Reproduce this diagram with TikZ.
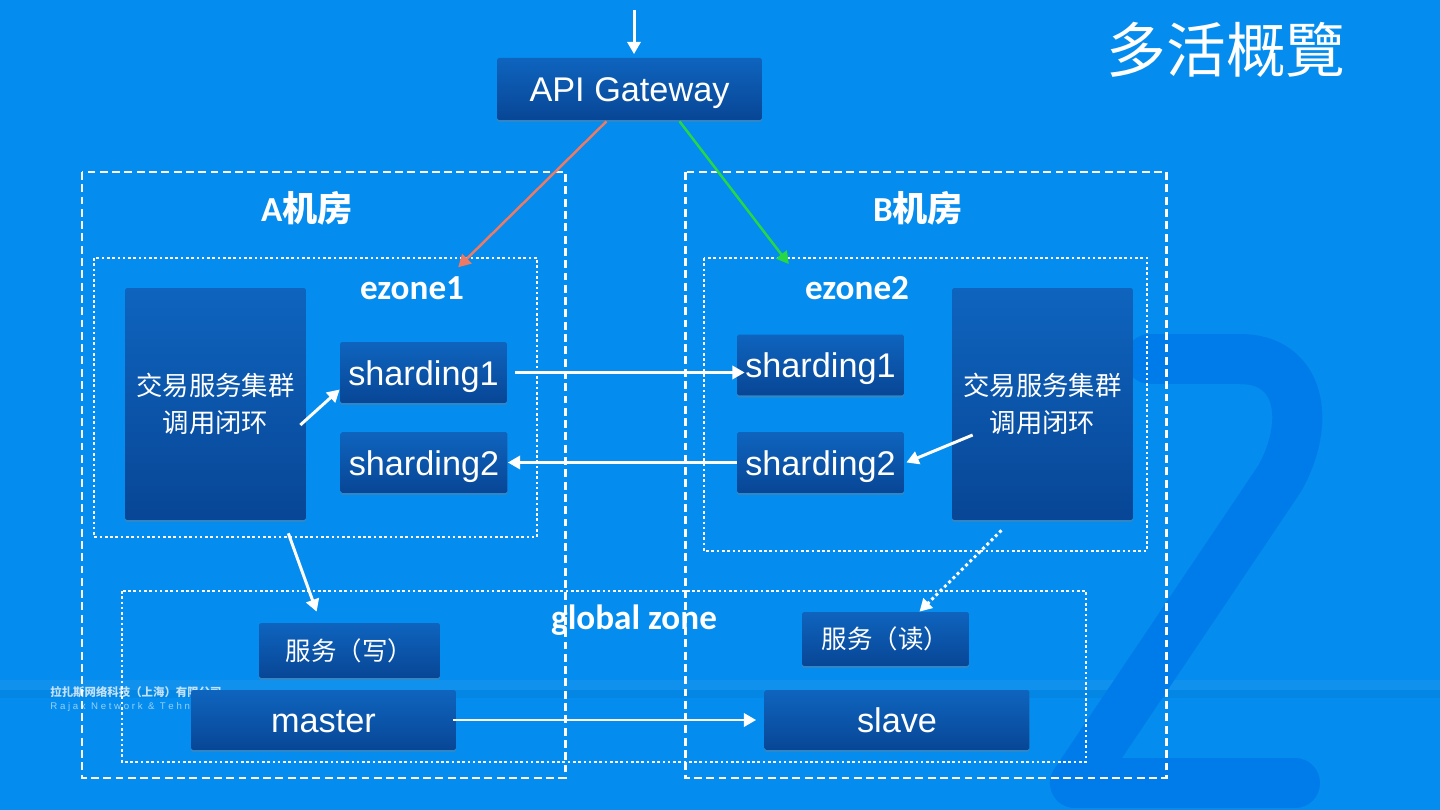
\documentclass[tikz,border=0pt]{standalone}
\usepackage{fontspec}
\setmainfont{Liberation Sans}
\newfontfamily\cjk{Noto Sans CJK SC}
\newfontfamily\lblfont{Carlito}
\usetikzlibrary{arrows.meta, calc, shadows}

\definecolor{slidebg}{RGB}{4,140,238}
\definecolor{logotwo}{RGB}{0,124,234}
\definecolor{boxtop}{RGB}{14,100,190}
\definecolor{boxbot}{RGB}{8,70,150}
\definecolor{redline}{RGB}{236,122,100}
\definecolor{greenline}{RGB}{40,215,70}

\begin{document}
\begin{tikzpicture}[
  x=0.02cm, y=-0.02cm,
  block/.style={rectangle, rounded corners=1pt, top color=boxtop, bottom color=boxbot,
                text=white, align=center, inner sep=0pt,
                drop shadow={shadow xshift=0pt, shadow yshift=-1.2pt, opacity=0.35}},
  svc/.style={block, text height=14.5pt, text depth=0pt, font=\fontsize{19.5}{22}\selectfont},
  cluster/.style={block, minimum width=3.62cm, minimum height=4.64cm,
                  font=\cjk\fontsize{15}{21}\selectfont},
  shard/.style={svc, minimum width=3.34cm, minimum height=1.22cm},
  dbnode/.style={svc, minimum width=5.3cm, minimum height=1.2cm},
  rw/.style={block, font=\cjk\fontsize{14.5}{18}\selectfont},
  zonelbl/.style={text=white, font=\lblfont\bfseries\fontsize{20}{24}\selectfont},
  room/.style={draw=white, line width=1.7pt, dash pattern=on 4.5pt off 2.5pt},
  ezone/.style={draw=white, line width=1.5pt, dash pattern=on 1.5pt off 1.5pt},
  arr/.style={-{Triangle[length=7pt, width=7.5pt]}, line width=1.7pt, draw=white},
  route/.style={-{Triangle[length=7pt, width=7.5pt]}, line width=1.4pt},
]

% slide background
\fill[slidebg] (0,0) rectangle (1440,810);
\useasboundingbox (0,0) rectangle (1440,810);
\fill[white, opacity=0.05] (0,680) rectangle (1440,690);
\fill[black, opacity=0.04] (0,690) rectangle (1440,698);
\draw[logotwo, line width=1cm, line join=round, line cap=round]
  (1150,359) -- (1240,359) .. controls (1300,359) and (1312,420) .. (1280,478)
  -- (1075,783) -- (1295,783);

% template logo
\node[anchor=west, text=white, opacity=0.75, inner sep=0pt,
      font=\cjk\bfseries\fontsize{6.5}{7}\selectfont] (logocn) at (50,692) {拉扎斯网络科技（上海）有限公司};
\node[anchor=north west, text=white, opacity=0.6, inner sep=0pt,
      font=\fontsize{5.5}{6}\selectfont] (logoen) at ($(logocn.south west)+(0,4)$) {R a j a x\ \ N e t w o r k\ \ \&\ \ T e h n o l o g y};

% title
\node[text=white, font=\cjk\fontsize{34}{40}\selectfont] (title) at (1226,50) {多活概覽};

% gateway
\node[svc, minimum width=5.3cm, minimum height=1.24cm] (api) at (629.5,89) {API Gateway};
\coordinate (entry) at (634,10);

% room A
\node[cluster] (clusterA) at (215.5,404) {交易服务集群\\调用闭环};
\node[shard] (shardA1) at (423.5,372.5) {sharding1};
\node[shard] (shardA2) at (424,462.5) {sharding2};

% room B
\node[shard] (shardB1) at (820.5,365) {sharding1};
\node[shard] (shardB2) at (820.5,462.5) {sharding2};
\node[cluster] (clusterB) at (1042.5,404) {交易服务集群\\调用闭环};

% global zone
\node[rw, minimum width=3.62cm, minimum height=1.1cm] (svcW) at (349.5,650.5) {服务（写）};
\node[rw, minimum width=3.34cm, minimum height=1.08cm] (svcR) at (885.5,639) {服务（读）};
\node[dbnode] (master) at (323.5,720) {master};
\node[dbnode] (slave) at (897,720) {slave};

% zone labels
\node[zonelbl] (lblA) at (307,208) {A{\cjk\bfseries 机房}};
\node[zonelbl] (lblB) at (918,208) {B{\cjk\bfseries 机房}};
\node[zonelbl] (lblEz1) at (412,288) {ezone1};
\node[zonelbl] (lblEz2) at (857,288) {ezone2};
\node[zonelbl] (lblGz) at (634,620) {global zone};

% zone frames
\draw[ezone] (94,258) rectangle (537,537);
\draw[ezone] (704,258) rectangle (1147,551);
\draw[ezone] (122,591) rectangle (1086,762);
\draw[room] (82,172) rectangle (565,778);
\draw[room] (685,172) rectangle (1166,778);

% Arrows
\draw[arr, shorten >=2pt] (entry) -- (entry |- api.north);
\draw[route, redline] ($(api.south)+(-23,1)$) -- ($(lblEz1.north east)+(-12,-3)$);
\draw[route, greenline] ($(api.south)+(50,1)$) -- ($(lblEz2.north west)+(-10,-6)$);
\draw[arr] ($(clusterA.east)+(-6,21)$) -- ($(shardA1.west)+(0,17)$);
\draw[arr] ($(shardA1.east)+(8,0)$) -- ($(shardA1.east -| shardB1.west)+(8,0)$);
\draw[arr] (shardB2.west) -- (shardA2.east);
\draw[arr] ($(clusterB.west)+(21,31)$) -- ($(shardB2.east)+(2,0)$);
\draw[arr] ($(clusterA.south east)+(-18,13)$) -- ($(svcW.north west)+(58,-11)$);
\draw[arr, dash pattern=on 1.7pt off 1.7pt] ($(clusterB.south)+(-41,10)$) -- ($(svcR.north)+(34,0)$);
\draw[arr] ($(master.east)+(-3,0)$) -- ($(slave.west)+(-8,0)$);

\end{tikzpicture}
\end{document}
